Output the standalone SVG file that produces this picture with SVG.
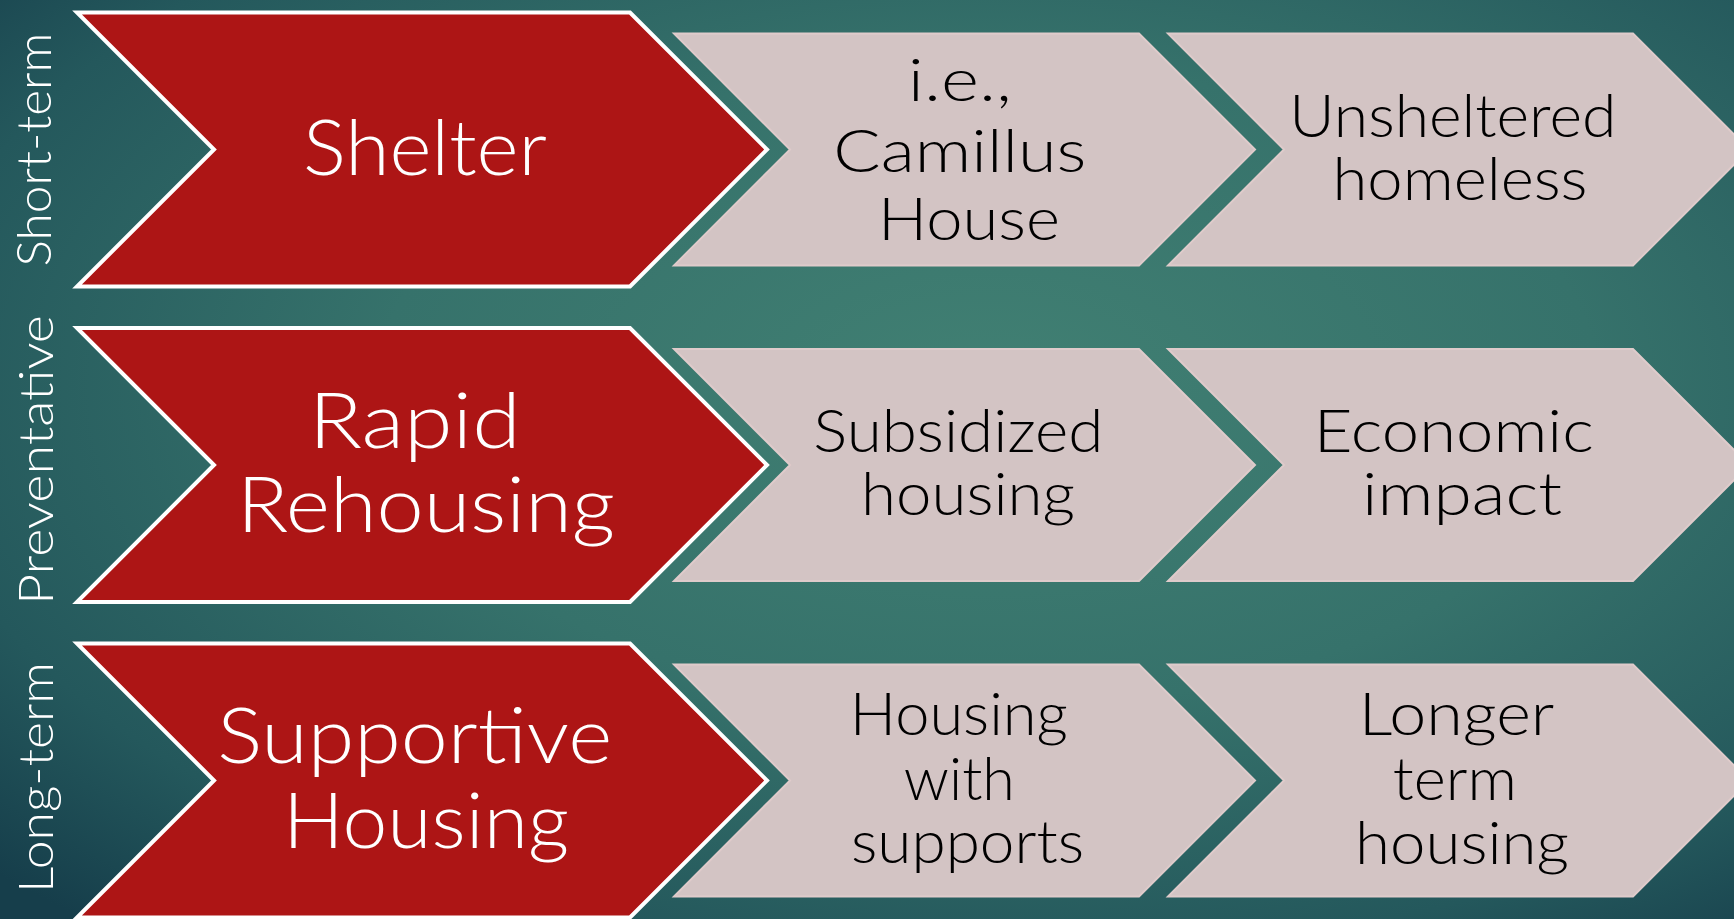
<svg xmlns="http://www.w3.org/2000/svg" width="1734" height="919" viewBox="0 0 1734 919">
  <defs>
    <radialGradient id="bg" cx="0.57" cy="0.42" r="0.78" fx="0.57" fy="0.42">
      <stop offset="0" stop-color="#418073"/>
      <stop offset="0.45" stop-color="#36726b"/>
      <stop offset="0.8" stop-color="#24585c"/>
      <stop offset="1" stop-color="#163e4b"/>
    </radialGradient>
    <polygon id="red-chevron" points="77,-137 630,-137 767,0 630,137 77,137 214,0"/>
    <polygon id="grey-chevron" points="0,-116 465,-116 581,0 465,116 0,116 116,0"/>
  </defs>
  <style>
    .red { fill: #ad1515; stroke: #ffffff; stroke-width: 4; stroke-linejoin: miter; }
    .grey { fill: #d3c4c4; stroke: #dfcbcb; stroke-width: 2; }
    .t { font-family: Lato, "DejaVu Sans", sans-serif; font-weight: 300; text-anchor: middle; }
    .big { fill: #ffffff; font-size: 76px; }
    .small { fill: #000000; font-size: 60px; }
    .side { fill: #ffffff; font-size: 47px; }
  </style>

  <rect width="1734" height="919" fill="url(#bg)"/>

  <!-- side labels -->
  <g id="label-short-term">
    <text class="t side" transform="translate(51,149.5) rotate(-90)" textLength="234" lengthAdjust="spacingAndGlyphs">Short-term</text>
  </g>
  <g id="label-preventative">
    <text class="t side" transform="translate(53,460) rotate(-90)" textLength="290" lengthAdjust="spacingAndGlyphs">Preventative</text>
  </g>
  <g id="label-long-term">
    <text class="t side" transform="translate(53,777.5) rotate(-90)" textLength="231" lengthAdjust="spacingAndGlyphs">Long-term</text>
  </g>

  <!-- row 1 -->
  <g id="shelter">
    <use href="#red-chevron" class="red" transform="translate(0,149.5)"/>
    <text class="t big" x="425" y="175" font-size="79" textLength="244" lengthAdjust="spacingAndGlyphs">Shelter</text>
  </g>
  <g id="camillus-house">
    <use href="#grey-chevron" class="grey" transform="translate(674,149.5)"/>
    <text class="t small" font-size="62">
      <tspan x="968" y="101" textLength="104" lengthAdjust="spacingAndGlyphs">i.e.,</tspan>
      <tspan x="968" y="172" textLength="253" lengthAdjust="spacingAndGlyphs">Camillus</tspan>
      <tspan x="969" y="240" textLength="182" lengthAdjust="spacingAndGlyphs">House</tspan>
    </text>
  </g>
  <g id="unsheltered-homeless">
    <use href="#grey-chevron" class="grey" transform="translate(1168,149.5)"/>
    <text class="t small" font-size="58">
      <tspan x="1461" y="137" textLength="327" lengthAdjust="spacingAndGlyphs">Unsheltered</tspan>
      <tspan x="1460" y="200" textLength="255" lengthAdjust="spacingAndGlyphs">homeless</tspan>
    </text>
  </g>

  <!-- row 2 -->
  <g id="rapid-rehousing">
    <use href="#red-chevron" class="red" transform="translate(0,465)"/>
    <text class="t big">
      <tspan x="425" y="448" textLength="212" lengthAdjust="spacingAndGlyphs">Rapid</tspan>
      <tspan x="426" y="532" textLength="378" lengthAdjust="spacingAndGlyphs">Rehousing</tspan>
    </text>
  </g>
  <g id="subsidized-housing">
    <use href="#grey-chevron" class="grey" transform="translate(674,465)"/>
    <text class="t small" font-size="58">
      <tspan x="966.5" y="452" textLength="290" lengthAdjust="spacingAndGlyphs">Subsidized</tspan>
      <tspan x="968" y="515" textLength="214" lengthAdjust="spacingAndGlyphs">housing</tspan>
    </text>
  </g>
  <g id="economic-impact">
    <use href="#grey-chevron" class="grey" transform="translate(1168,465)"/>
    <text class="t small" font-size="58">
      <tspan x="1462" y="452" textLength="280" lengthAdjust="spacingAndGlyphs">Economic</tspan>
      <tspan x="1462" y="515" textLength="200" lengthAdjust="spacingAndGlyphs">impact</tspan>
    </text>
  </g>

  <!-- row 3 -->
  <g id="supportive-housing">
    <use href="#red-chevron" class="red" transform="translate(0,780.5)"/>
    <text class="t big">
      <tspan x="425" y="763" textLength="395" lengthAdjust="spacingAndGlyphs">Supportive</tspan>
      <tspan x="426" y="848" textLength="286" lengthAdjust="spacingAndGlyphs">Housing</tspan>
    </text>
  </g>
  <g id="housing-with-supports">
    <use href="#grey-chevron" class="grey" transform="translate(674,780.5)"/>
    <text class="t small" font-size="58">
      <tspan x="967" y="735" textLength="218" lengthAdjust="spacingAndGlyphs">Housing</tspan>
      <tspan x="967.5" y="800" textLength="111" lengthAdjust="spacingAndGlyphs">with</tspan>
      <tspan x="967.5" y="863" textLength="233" lengthAdjust="spacingAndGlyphs">supports</tspan>
    </text>
  </g>
  <g id="longer-term-housing">
    <use href="#grey-chevron" class="grey" transform="translate(1168,780.5)"/>
    <text class="t small" font-size="58">
      <tspan x="1464" y="735" textLength="194" lengthAdjust="spacingAndGlyphs">Longer</tspan>
      <tspan x="1463" y="800" textLength="124" lengthAdjust="spacingAndGlyphs">term</tspan>
      <tspan x="1462" y="864" textLength="214" lengthAdjust="spacingAndGlyphs">housing</tspan>
    </text>
  </g>

  <!-- no separate connectors: the chevrons themselves carry the flow -->
  <g id="connectors"/>
</svg>
